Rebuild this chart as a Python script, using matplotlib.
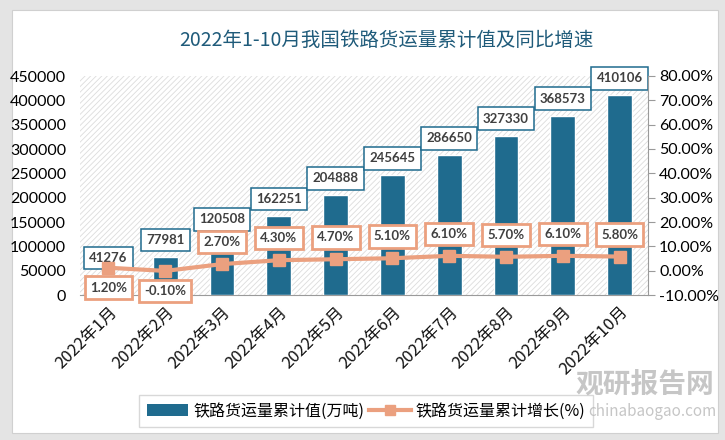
import matplotlib
matplotlib.use("Agg")
import matplotlib.pyplot as plt
import matplotlib.patches as patches
from matplotlib.lines import Line2D

plt.rcParams["font.family"] = ["Noto Sans CJK SC", "DejaVu Sans"]
plt.rcParams["hatch.linewidth"] = 0.6

# Data
months = ["2022年1月", "2022年2月", "2022年3月", "2022年4月", "2022年5月",
          "2022年6月", "2022年7月", "2022年8月", "2022年9月", "2022年10月"]
volume = [41276, 77981, 120508, 162251, 204888, 245645, 286650, 327330, 368573, 410106]
growth = [1.2, -0.1, 2.7, 4.3, 4.7, 5.1, 6.1, 5.7, 6.1, 5.8]
growth_below = [True, True, False, False, False, False, False, False, False, False]

bar_color = "#1f6b8e"
line_color = "#eba07f"

fig = plt.figure(figsize=(7.25, 4.4), dpi=100, facecolor="#e4e4e4")
# white card
card = patches.Rectangle((12 / 725, 7 / 440), 706 / 725, 423 / 440, transform=fig.transFigure,
                         facecolor="white", edgecolor="#d0d0d0", linewidth=0.8, zorder=-10)
fig.patches.append(card)

ax = fig.add_axes([80 / 725, 145 / 440, 568 / 725, 219 / 440])
ax.set_facecolor("none")
ax2 = ax.twinx()

# hatched background
bg = patches.Rectangle((0, 0), 1, 1, transform=ax.transAxes, facecolor="white",
                       edgecolor="#dcdcdc", hatch="//////", linewidth=0, zorder=0)
ax.add_patch(bg)

x = list(range(len(months)))
ax.bar(x, volume, width=0.44, color=bar_color, edgecolor="white", linewidth=1, zorder=3)
ax.set_xlim(-0.5, 9.5)
ax.set_ylim(0, 450000)
ax.set_yticks(range(0, 450001, 50000))
ax.tick_params(axis="y", length=0, labelsize=11.5, pad=10)
for lbl in ax.get_yticklabels():
    lbl.set_family(["Lato", "DejaVu Sans"])
ax.set_xticks(x)
ax.set_xticklabels(months, rotation=45, ha="right", rotation_mode="anchor",
                   fontsize=12, color="#111111")
ax.tick_params(axis="x", length=0, pad=6)
for s in ["left", "top", "right"]:
    ax.spines[s].set_visible(False)
ax.spines["bottom"].set_color("#9a9a9a")

for xi, v in zip(x, volume):
    ax.annotate(str(v), (xi, v), xytext=(0, 17), textcoords="offset pixels",
                ha="center", va="center", fontsize=9.5, color="#404040", fontweight="bold",
                family=["Lato", "DejaVu Sans"], zorder=6,
                bbox=dict(boxstyle="square,pad=0.4", fc="white", ec=bar_color, lw=1.1))

ax2.plot(x, growth, color=line_color, lw=3, marker="s", markersize=8, zorder=5)
ax2.set_ylim(-10, 80)
ax2.set_yticks(range(-10, 81, 10))
ax2.set_yticklabels([f"{t:.2f}%" for t in range(-10, 81, 10)])
ax2.tick_params(axis="y", length=5, color="#9a9a9a", labelsize=11.5, pad=3)
for lbl in ax2.get_yticklabels():
    lbl.set_family(["Lato", "DejaVu Sans"])
for s in ["left", "top", "bottom"]:
    ax2.spines[s].set_visible(False)
ax2.spines["right"].set_color("#9a9a9a")

for xi, g, below in zip(x, growth, growth_below):
    off = -20 if below else 22
    ax2.annotate(f"{g:.2f}%", (xi, g), xytext=(0, off), textcoords="offset pixels",
                 ha="center", va="center", fontsize=9.5, color="#404040", fontweight="bold",
                 family=["Lato", "DejaVu Sans"], zorder=7,
                 bbox=dict(boxstyle="square,pad=0.4", fc="white", ec=line_color, lw=2))

fig.text(386 / 725, 1 - 40 / 440, "2022年1-10月我国铁路货运量累计值及同比增速",
         ha="center", va="center", fontsize=14, color="#1f5b7a")

handles = [patches.Patch(facecolor=bar_color, edgecolor="none"),
           Line2D([0], [0], color=line_color, lw=3, marker="s", markersize=7)]
leg = fig.legend(handles, ["铁路货运量累计值(万吨)", "铁路货运量累计增长(%)"],
                 loc="center", bbox_to_anchor=(366 / 725, 1 - 411 / 440), ncol=2,
                 fontsize=11.5, frameon=True, fancybox=False, edgecolor="#cfcfcf",
                 handlelength=2.6, handletextpad=0.3, columnspacing=0.3, borderpad=0.5)
leg.set_zorder(10)

# watermark
fig.text(645 / 725, 1 - 385 / 440, "观研报告网", ha="center", va="center", fontsize=20,
         fontweight="bold", color="#b8b8b8", alpha=0.8, zorder=11)
fig.text(652 / 725, 1 - 411 / 440, "chinabaogao.com", ha="center", va="center", fontsize=11,
         color="#b8b8b8", alpha=0.8, zorder=11)

fig.savefig("out.png", dpi=100, facecolor=fig.get_facecolor())
